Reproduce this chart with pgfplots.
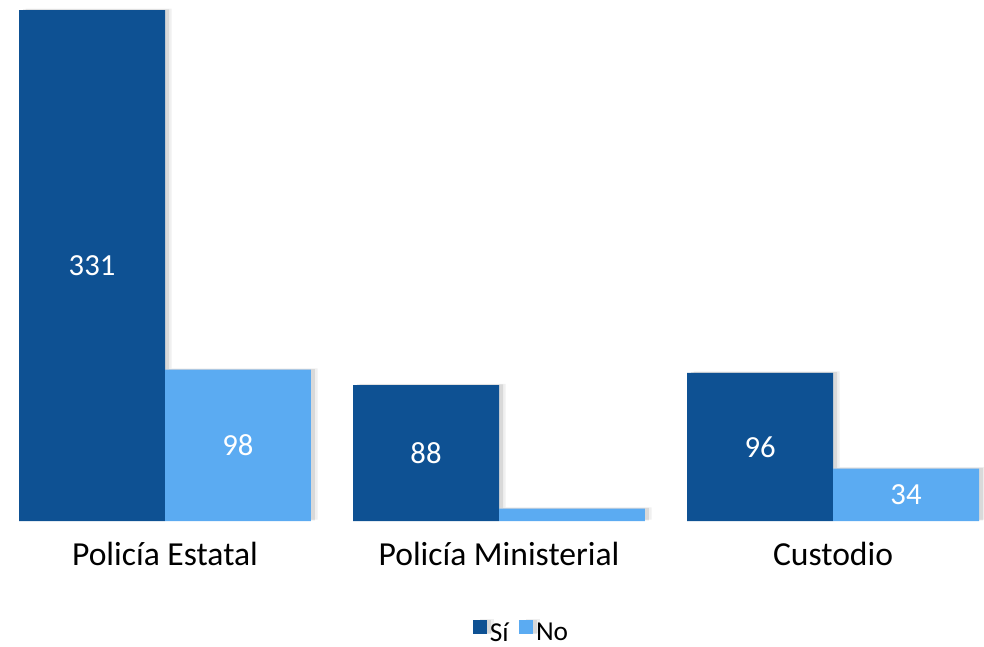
\documentclass[border=0pt]{standalone}
\usepackage{pgfplots}
\pgfplotsset{compat=1.18}
\usepackage{fontspec}
\setmainfont{Carlito}
\usetikzlibrary{shadows}
\definecolor{si}{HTML}{0E5193}
\definecolor{no}{HTML}{5BABF2}
\tikzset{barshadow/.style={
  drop shadow={shadow xshift=5pt, shadow yshift=1pt, opacity=0.12},
  drop shadow={shadow xshift=3pt, shadow yshift=0.5pt, opacity=0.2}}}
\begin{document}
\begin{tikzpicture}
\useasboundingbox (0,-93.75pt) rectangle (738pt,390.75pt);
\begin{axis}[
  scale only axis, width=738pt, height=390.75pt,
  at={(0,0)}, anchor=south west,
  ybar=0pt, bar width=0.437,
  xmin=-0.494, xmax=2.452, ymin=0, ymax=337.5,
  axis line style={draw=none}, major tick length=0pt,
  ytick=\empty,
  xtick={0,1,2},
  xticklabels={Policía Estatal, Policía Ministerial, Custodio},
  xticklabel style={font=\fontsize{25.2}{30}\selectfont, anchor=base, yshift=-33pt},
  clip=false,
  point meta=explicit symbolic,
  nodes near coords,
  visualization depends on=y \as \rawy,
  every node near coord/.append style={anchor=center, text=white,
    font=\fontsize{23}{27}\selectfont,
    yshift=-\rawy*0.5789pt},
  legend style={draw=none, at={(0.5305,-0.215)}, anchor=center,
    font=\fontsize{20.5}{24}\selectfont, legend columns=2,
    /tikz/every odd column/.append style={column sep=0pt},
    /tikz/every even column/.append style={column sep=6pt},
    nodes={inner xsep=2pt}},
  legend image code/.code={\fill[#1] (0pt,-1pt) rectangle (10.5pt,9.5pt);},
]
\addplot[fill=si, draw=none, barshadow]
  coordinates {(0,331) [331] (1,88) [88] (2,96) [96]};
\addplot[fill=no, draw=none, barshadow]
  coordinates {(0,98) [98] (1,8) [{}] (2,34) [34]};
\legend{Sí, No}
\end{axis}
\end{tikzpicture}
\end{document}
